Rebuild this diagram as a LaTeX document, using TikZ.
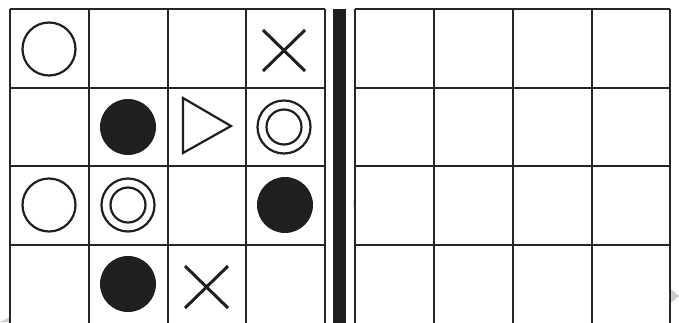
\documentclass[tikz,border=0pt]{standalone}
\begin{document}
\begin{tikzpicture}[x=1pt,y=-1pt,
  gridline/.style={line width=1.4pt,draw=black!85},
  symb/.style={line width=2.2pt,draw=black!88},
  cross/.style={line width=3pt,draw=black!88},
  blob/.style={fill=black!88}]
\useasboundingbox (0,0) rectangle (679,322);
\fill[white] (0,0) rectangle (679,322);
% faint page artefacts
\fill[black!20] (0,322) -- (10,317) -- (10,322) -- cycle;
\fill[black!20] (671,289) -- (679,296) -- (671,303) -- cycle;
\fill[black!15] (353,199) -- (356,203) -- (353,207) -- cycle;
% left grid
\foreach \x in {10,89,168,246,325} \draw[gridline] (\x,9) -- (\x,323);
\foreach \y in {9,88,166,245} \draw[gridline] (10,\y) -- (325,\y);
% bar
\fill[black!88] (333,9) rectangle (346,323);
% right grid
\foreach \x in {355,434,513,592,670} \draw[gridline] (\x,9) -- (\x,323);
\foreach \y in {9,88,166,245} \draw[gridline] (355,\y) -- (670,\y);
% row 1
\draw[symb] (49,49) circle (26.5);
\draw[cross] (263,30) -- (305,71) (305,30) -- (263,71);
% row 2
\fill[blob] (128,127) circle (28);
\draw[symb,line join=miter] (183,98) -- (231,126) -- (183,153) -- cycle;
\draw[symb] (284,127) circle (26.5);
\draw[symb] (284,127) circle (17.5);
% row 3
\draw[symb] (49,205) circle (26.5);
\draw[symb] (128,205) circle (26.5);
\draw[symb] (128,205) circle (17.5);
\fill[blob] (285,205) circle (28);
% row 4
\fill[blob] (128,284) circle (28);
\draw[cross] (185,266) -- (228,308) (228,266) -- (185,308);
\end{tikzpicture}
\end{document}
